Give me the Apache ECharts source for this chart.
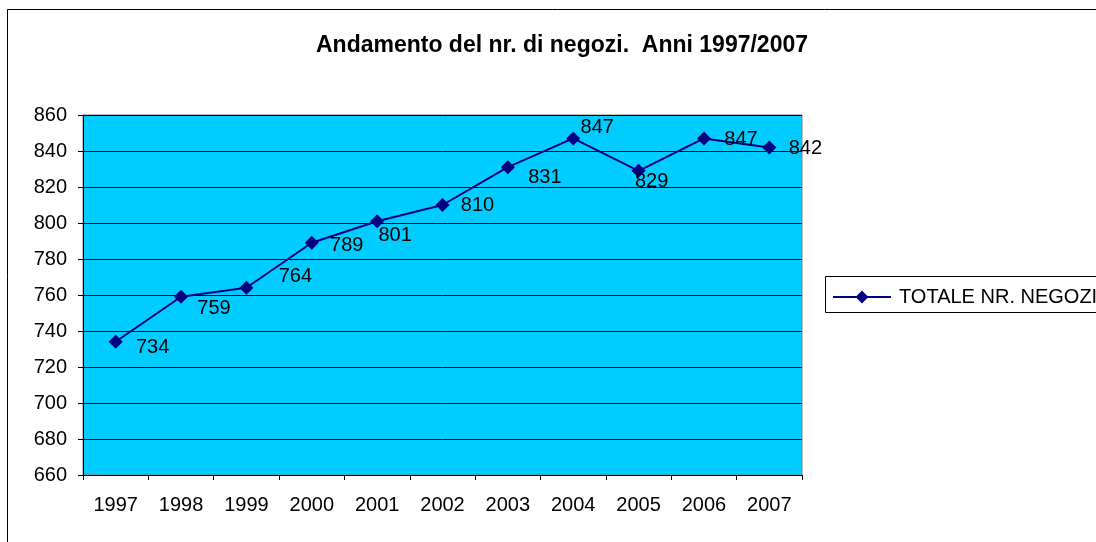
<!DOCTYPE html>
<html>
<head>
<meta charset="utf-8">
<script src="https://cdn.jsdelivr.net/npm/echarts@6/dist/echarts.min.js"></script>
<style>
  html, body { margin: 0; padding: 0; background: #fff; }
  #chart { width: 1096px; height: 542px; }
</style>
</head>
<body>
<div id="chart"></div>
<script>
// dati
const anni = ['1997', '1998', '1999', '2000', '2001', '2002', '2003', '2004', '2005', '2006', '2007'];
const negozi = [734, 759, 764, 789, 801, 810, 831, 847, 829, 847, 842];
// spostamento del centro delle etichette rispetto al punto, come nel foglio originale
const labelOffsets = [[37, 6], [33, 12], [49, -11], [35, 3], [18, 14], [35, 0], [37, 10], [24, -11], [13, 11], [37, 1], [36, 1]];

const chart = echarts.init(document.getElementById('chart'));
const font = 'Liberation Sans, Arial, sans-serif';

chart.setOption({
    animation: false,
    title: {
        text: 'Andamento del nr. di negozi.  Anni 1997/2007',
        left: 557,
        top: 29,
        textAlign: 'center',
        textStyle: { fontFamily: font, fontSize: 23, fontWeight: 'bold', color: '#000' }
    },
    graphic: [
        {
            type: 'rect',
            shape: { x: 7.5, y: 9.5, width: 1200, height: 600 },
            style: { fill: 'none', stroke: '#000', lineWidth: 1 },
            silent: true
        },
        {
            type: 'rect',
            shape: { x: 825.5, y: 276.5, width: 300, height: 36 },
            style: { fill: '#fff', stroke: '#000', lineWidth: 1 },
            silent: true,
            z: 0
        }
    ],
    legend: {
        data: ['TOTALE NR. NEGOZI'],
        left: 827,
        top: 282,
        itemWidth: 58,
        itemHeight: 16,
        itemGap: 4,
        itemStyle: { borderWidth: 0 },
        z: 5,
        textStyle: { fontFamily: font, fontSize: 20, color: '#000', padding: [0, 0, 0, 3] }
    },
    grid: {
        left: 83,
        right: 294,
        top: 115,
        bottom: 67,
        show: true,
        backgroundColor: '#00CCFF',
        borderColor: '#808080',
        borderWidth: 1
    },
    xAxis: {
        type: 'category',
        data: anni,
        boundaryGap: true,
        axisLine: { lineStyle: { color: '#000', width: 1 } },
        axisTick: { show: true, length: 5, inside: false, lineStyle: { color: '#000' } },
        axisLabel: { fontFamily: font, fontSize: 20, color: '#000', margin: 20 },
        splitLine: { show: false }
    },
    yAxis: {
        type: 'value',
        min: 660,
        max: 860,
        interval: 20,
        axisLine: { show: true, lineStyle: { color: '#000', width: 1 } },
        axisTick: { show: true, length: 5, inside: false, lineStyle: { color: '#000' } },
        axisLabel: { fontFamily: font, fontSize: 20, color: '#000', margin: 16 },
        splitLine: { show: true, lineStyle: { color: '#000', width: 1 } }
    },
    series: [
        {
            name: 'TOTALE NR. NEGOZI',
            type: 'line',
            symbol: 'diamond',
            symbolSize: 14,
            itemStyle: { color: '#000080' },
            lineStyle: { color: '#000080', width: 2 },
            label: {
                show: true,
                position: 'inside',
                align: 'center',
                verticalAlign: 'middle',
                fontFamily: font,
                fontSize: 20,
                color: '#000'
            },
            data: negozi.map((v, i) => ({
                value: v,
                label: { offset: labelOffsets[i] }
            }))
        }
    ]
});
</script>
</body>
</html>
